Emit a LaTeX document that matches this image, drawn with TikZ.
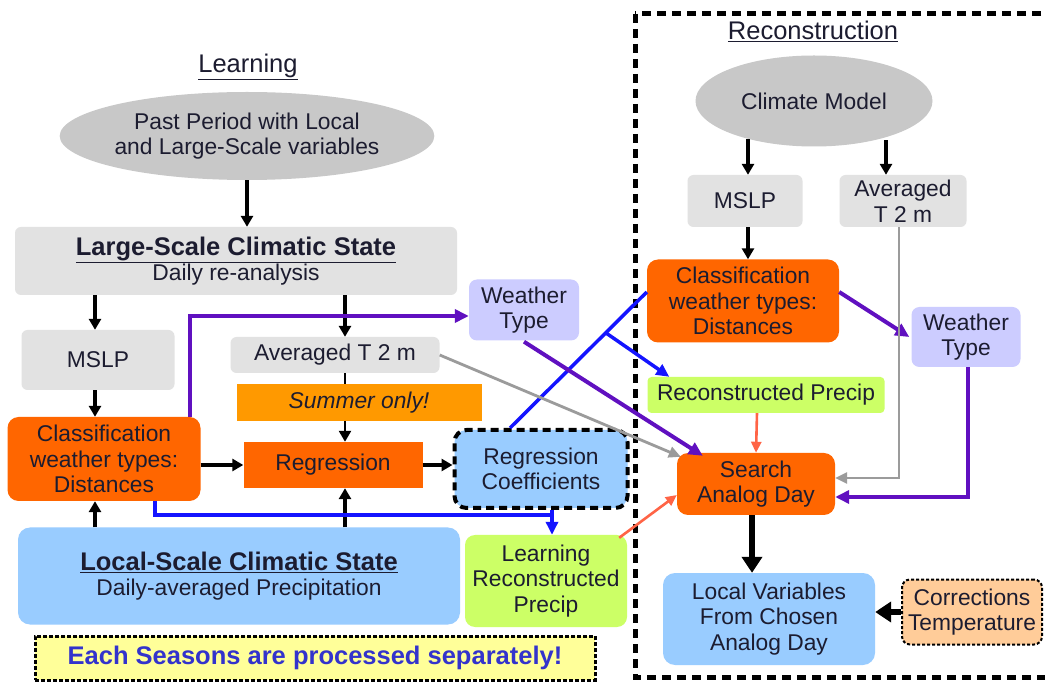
\documentclass[tikz,border=0pt]{standalone}
\usepackage{fontspec}
\setmainfont{Liberation Sans}
\usetikzlibrary{shapes.geometric,arrows.meta,calc}
\definecolor{txt}{RGB}{28,28,48}
\definecolor{ellgray}{RGB}{200,200,200}
\definecolor{boxgray}{RGB}{226,226,226}
\definecolor{orA}{RGB}{255,102,0}
\definecolor{orB}{RGB}{255,153,0}
\definecolor{lav}{RGB}{204,204,255}
\definecolor{lblue}{RGB}{153,204,255}
\definecolor{lgreen}{RGB}{204,255,102}
\definecolor{peach}{RGB}{255,204,153}
\definecolor{lyellow}{RGB}{255,255,153}
\definecolor{purp}{RGB}{96,16,192}
\definecolor{blueln}{RGB}{20,20,255}
\definecolor{coral}{RGB}{255,100,70}
\definecolor{grayln}{RGB}{155,155,155}
\definecolor{ytext}{RGB}{51,51,204}
\newcommand\myfn{\fontsize{22.8}{25.5}\selectfont}
\newcommand\mytf{\fontsize{25.5}{28}\selectfont}
\tikzset{
  base/.style={align=center, inner sep=0pt, text=txt, font=\myfn},
  ellbox/.style={base, ellipse, fill=ellgray},
  graybox/.style={base, fill=boxgray, rounded corners=6pt},
  orbox/.style={base, fill=orA, rounded corners=11pt},
  lavbox/.style={base, fill=lav, rounded corners=8pt},
  bluebox/.style={base, fill=lblue, rounded corners=12pt},
  greenbox/.style={base, fill=lgreen, rounded corners=10pt},
  blk/.style={draw=black, line width=3.2pt, -{Triangle[length=11pt,width=12pt]}},
  blkthick/.style={draw=black, line width=6pt, -{Triangle[length=16pt,width=20pt]}},
  purarrow/.style={draw=purp, line width=4pt, -{Triangle[length=14pt,width=13pt]}},
  bluearrow/.style={draw=blueln, line width=3.5pt, -{Triangle[length=13pt,width=12pt]}},
  grayarrow/.style={draw=grayln, line width=2.8pt, -{Triangle[length=12pt,width=11pt]}},
  coralarrow/.style={draw=coral, line width=2.6pt, -{Triangle[length=11pt,width=10pt]}},
}
\begin{document}
\begin{tikzpicture}[x=1pt,y=-1pt]
\useasboundingbox[fill=white] (0,0) rectangle (1045,684);

% reconstruction frame
\draw[line width=5pt, dash pattern=on 9pt off 6pt] (635,14) rectangle (1060,677);

% titles
\node[base, font=\mytf] (learnT) at (248,67) {\underline{Learning}};
\node[base, font=\mytf] (reconT) at (813,31) {\underline{Reconstruction}};

% learning side
\node[ellbox, minimum width=329pt, minimum height=88pt] (past) at (247,136) {Past Period with Local\\and Large-Scale variables};
\node[graybox, minimum width=442pt, minimum height=68pt] (large) at (236,261) {{\mytf\bfseries\underline{Large-Scale Climatic State}}\\Daily re-analysis};
\node[graybox, minimum width=153pt, minimum height=60pt] (mslpL) at (98,360) {MSLP};
\node[graybox, minimum width=209pt, minimum height=36pt] (avgL) at (335,355) {Averaged T 2 m};
\node[lavbox, minimum width=110pt, minimum height=61pt] (wtL) at (524,310) {Weather\\Type};
\node[orbox, minimum width=193pt, minimum height=84pt] (classL) at (104,459) {Classification\\weather types:\\Distances};
\node[base, fill=orA, minimum width=179pt, minimum height=46pt] (regr) at (333,465) {Regression};
\node[bluebox, minimum width=442pt, minimum height=97pt] (local) at (239,576) {{\mytf\bfseries\underline{Local-Scale Climatic State}}\\Daily-averaged Precipitation};
\node[greenbox, minimum width=162pt, minimum height=92pt] (lrp) at (546,581) {Learning\\Reconstructed\\Precip};
\node[base, fill=lblue, rounded corners=12pt, draw=black, line width=4pt, dash pattern=on 8pt off 5pt, minimum width=173pt, minimum height=78pt] (coeff) at (541,469) {Regression\\Coefficients};
\node[base, fill=lyellow, draw=black, line width=3pt, dash pattern=on 4pt off 2pt, minimum width=560pt, minimum height=44pt, text=ytext, font=\mytf\bfseries] (yellow) at (315,658) {Each Seasons are processed separately!};

% reconstruction side
\node[ellbox, minimum width=237pt, minimum height=91pt] (climate) at (814,101) {Climate Model};
\node[graybox, minimum width=115pt, minimum height=52pt] (mslpR) at (745,201) {MSLP};
\node[graybox, minimum width=127pt, minimum height=52pt] (avgR) at (903,201) {Averaged\\T 2 m};
\node[orbox, minimum width=192pt, minimum height=83pt] (classR) at (743,301) {Classification\\weather types:\\Distances};
\node[lavbox, minimum width=109pt, minimum height=60pt] (wtR) at (966,337) {Weather\\Type};
\node[base, fill=lgreen, rounded corners=4pt, minimum width=237pt, minimum height=36pt] (rprecip) at (766,395) {Reconstructed Precip};
\node[orbox, minimum width=158pt, minimum height=62pt] (search) at (756,484) {Search\\Analog Day};
\node[bluebox, minimum width=212pt, minimum height=92pt] (localvar) at (769,619) {Local Variables\\From Chosen\\Analog Day};
\node[base, fill=peach, rounded corners=8pt, draw=black, line width=2pt, dash pattern=on 3pt off 2pt, minimum width=140pt, minimum height=65pt] (corr) at (972,612) {Corrections\\Temperature};

% learning connectors
\draw[blk] (past.south) -- (large.north -| past.south);
\draw[blk] ([xshift=-3pt]mslpL.north |- large.south) -- ([xshift=-3pt]mslpL.north);
\draw[blk] ([xshift=10pt]avgL.north |- large.south) -- ([xshift=10pt]avgL.north);
\draw[blk] ([xshift=-3pt]mslpL.south) -- ([xshift=-3pt]mslpL.south |- classL.north);
\draw[blk, line width=2.4pt] ([xshift=10pt]avgL.south) -- ([xshift=12pt]regr.north);
\node[base, fill=orB, minimum width=245pt, minimum height=37pt] (summer) at (359,403) {\itshape Summer only!};
\draw[blk] (classL.east |- regr.west) -- (regr.west);
\draw[blk] (regr.east) -- (coeff.west |- regr.east);
\draw[blk] ([xshift=-9pt]classL.south |- local.north) -- ([xshift=-9pt]classL.south);
\draw[blk] ([xshift=12pt]regr.south |- local.north) -- ([xshift=12pt]regr.south);
\draw[purarrow] ([xshift=86pt]classL.north) |- ([yshift=-6pt]wtL.west);
\coordinate (bj) at (552,515);
\draw[draw=blueln, line width=3.5pt] ([xshift=51pt]classL.south) |- (bj);
\draw[bluearrow] (coeff.south -| bj) -- (lrp.north -| bj);
\coordinate (dA) at ($(coeff.north)+(-31pt,0)$);
\coordinate (dB) at ($(classR.west)+(0,9pt)$);
\draw[draw=blueln, line width=3.5pt] (dA) -- (dB);
\draw[bluearrow] ($(dA)!0.7!(dB)$) -- ([xshift=22pt]rprecip.north west);
\draw[grayarrow] (avgL.east) -- ([xshift=4pt,yshift=-4pt]search.north west);
\draw[purarrow] ([yshift=-1pt]wtL.south) -- ([xshift=26pt,yshift=-3pt]search.north west);
\draw[coralarrow] ([xshift=-8pt,yshift=-3pt]lrp.north east) -- ([yshift=-11pt]search.west);

% reconstruction connectors
\draw[blk] ([xshift=3pt]mslpR.north |- climate.211) -- ([xshift=3pt]mslpR.north);
\draw[blk] ([xshift=-17pt]avgR.north |- climate.327) -- ([xshift=-17pt]avgR.north);
\draw[blk] ([xshift=3pt]mslpR.south) -- ([xshift=3pt]mslpR.south |- classR.north);
\draw[purarrow] ([yshift=9pt]classR.east) -- ([xshift=-2pt,yshift=0pt]wtR.west);
\draw[coralarrow] ([xshift=1pt]rprecip.south -| search.north) -- (search.north);
\draw[grayarrow] ([xshift=-4pt]avgR.south) |- ([yshift=6pt]search.east);
\draw[purarrow] ([xshift=2pt]wtR.south) |- ([yshift=-13pt]search.east);
\draw[blkthick] ([xshift=-4pt]search.south) -- ([xshift=-4pt]search.south |- localvar.north);
\draw[blkthick] (corr.west) -- (localvar.east |- corr.west);
\end{tikzpicture}
\end{document}
